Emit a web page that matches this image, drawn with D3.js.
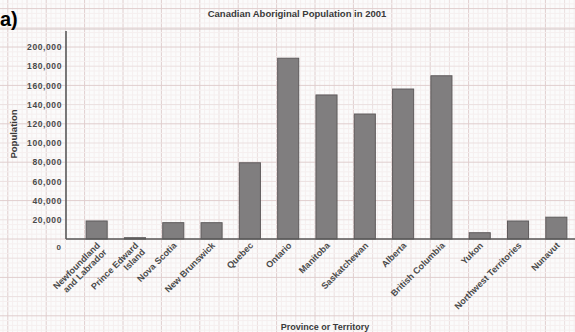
<!DOCTYPE html>
<html>
<head>
<meta charset="utf-8">
<script src="https://cdn.jsdelivr.net/npm/d3@7"></script>
<style>
  html, body { margin: 0; padding: 0; background: #fbfbfb; }
  svg { display: block; }
  text { font-family: "Liberation Sans", Arial, sans-serif; }
</style>
</head>
<body>
<svg id="chart" width="575" height="332"></svg>
<script>
// ---- data ----
const categories = [
  "Newfoundland|and Labrador", "Prince Edward|Island", "Nova Scotia", "New Brunswick",
  "Quebec", "Ontario", "Manitoba", "Saskatchewan", "Alberta", "British Columbia",
  "Yukon", "Northwest Territories", "Nunavut"
];
const population = [18775, 1345, 17010, 16990, 79400, 188315, 150040, 130185, 156220, 170025, 6540, 18730, 22720];
const yTicks = [20000, 40000, 60000, 80000, 100000, 120000, 140000, 160000, 180000, 200000];
const chartTitle = "Canadian Aboriginal Population in 2001";
const xTitle = "Province or Territory";
const yTitle = "Population";

const W = 575, H = 332;
const svg = d3.select("#chart");

// ---- scales ----
const y = d3.scaleLinear().domain([0, 200000]).range([239, 47]);
const x = d3.scaleBand().domain(categories).range([77.5, 575.5]).paddingInner(0.45).paddingOuter(0.225);

// ---- graph paper background ----
const paper = svg.append("g");
const minor = (y(0) - y(20000)) / 4;
const x0 = 123 % minor;
function paperStroke(k) {
  const strong = ((k % 8) + 8) % 8 === 0, mid = ((k % 4) + 4) % 4 === 0;
  return strong ? "#e0cece" : mid ? "#ebdfdf" : "#f5efef";
}
for (let gx = x0; gx <= W; gx += minor) {
  const k = Math.round((gx - 123) / minor);
  paper.append("line").attr("x1", gx).attr("x2", gx).attr("y1", 0).attr("y2", H)
    .attr("stroke", paperStroke(k)).attr("stroke-width", 1);
}
for (let k = -Math.floor((H - y(0)) / minor); y(0) - k * minor >= 0; k++) {
  const gy = y(0) - k * minor;
  paper.append("line").attr("x1", 0).attr("x2", W).attr("y1", gy).attr("y2", gy)
    .attr("stroke", paperStroke(k)).attr("stroke-width", 1);
}
// header band line
svg.append("line").attr("x1", 0).attr("x2", W).attr("y1", 29).attr("y2", 29)
  .attr("stroke", "#d4c4c4").attr("stroke-width", 1);

// ---- bars ----
svg.append("g").selectAll("rect").data(population).join("rect")
  .attr("x", (d, j) => x(categories[j]))
  .attr("y", d => y(d))
  .attr("width", x.bandwidth())
  .attr("height", d => y(0) - y(d))
  .attr("fill", "#807e7f")
  .attr("stroke", "#5e5a5b")
  .attr("stroke-width", 1);

// ---- axes ----
const yAxis = d3.axisLeft(y).tickValues(yTicks).tickSize(0).tickPadding(4)
  .tickFormat(d3.format(","));
const gy = svg.append("g").attr("transform", "translate(66,0)").call(yAxis);
gy.select(".domain").remove();
gy.selectAll("text").attr("font-size", 8.5).attr("font-weight", "bold")
  .attr("fill", "#4a4a4a").attr("letter-spacing", 0.6);

svg.append("line").attr("x1", 66).attr("x2", 66).attr("y1", 31).attr("y2", y(0))
  .attr("stroke", "#5a5a5a").attr("stroke-width", 1.6);
svg.append("line").attr("x1", 66).attr("x2", W).attr("y1", y(0)).attr("y2", y(0))
  .attr("stroke", "#5a5a5a").attr("stroke-width", 1.6);

svg.append("text").attr("x", 61).attr("y", 250).attr("font-size", 8).attr("font-weight", "bold")
  .attr("fill", "#4a4a4a").attr("text-anchor", "end").text("0");

// ---- x labels (rotated) ----
const xl = svg.append("g");
categories.forEach(c => {
  const cx = x(c) + x.bandwidth() / 2 + 4;
  const t = xl.append("text")
    .attr("transform", `translate(${cx},246) rotate(-45)`)
    .attr("text-anchor", "end")
    .attr("font-size", 9).attr("font-weight", "bold").attr("fill", "#4a4a4a");
  c.split("|").forEach((line, j) => {
    t.append("tspan").attr("x", 0).attr("dy", j === 0 ? 0 : "1.05em").text(line);
  });
});

// ---- titles ----
svg.append("text").attr("x", 297).attr("y", 17).attr("text-anchor", "middle")
  .attr("font-size", 9.5).attr("font-weight", "bold").attr("fill", "#3a3a3a").text(chartTitle);
svg.append("text").attr("x", 325).attr("y", 330).attr("text-anchor", "middle")
  .attr("font-size", 9).attr("font-weight", "bold").attr("fill", "#3a3a3a").text(xTitle);
svg.append("text").attr("transform", "translate(17,134) rotate(-90)").attr("text-anchor", "middle")
  .attr("font-size", 9.5).attr("font-weight", "bold").attr("fill", "#3a3a3a").text(yTitle);

svg.append("text").attr("x", 0).attr("y", 26).attr("font-size", 20).attr("font-weight", "bold")
  .attr("fill", "#000").text("a)");
</script>
</body>
</html>
